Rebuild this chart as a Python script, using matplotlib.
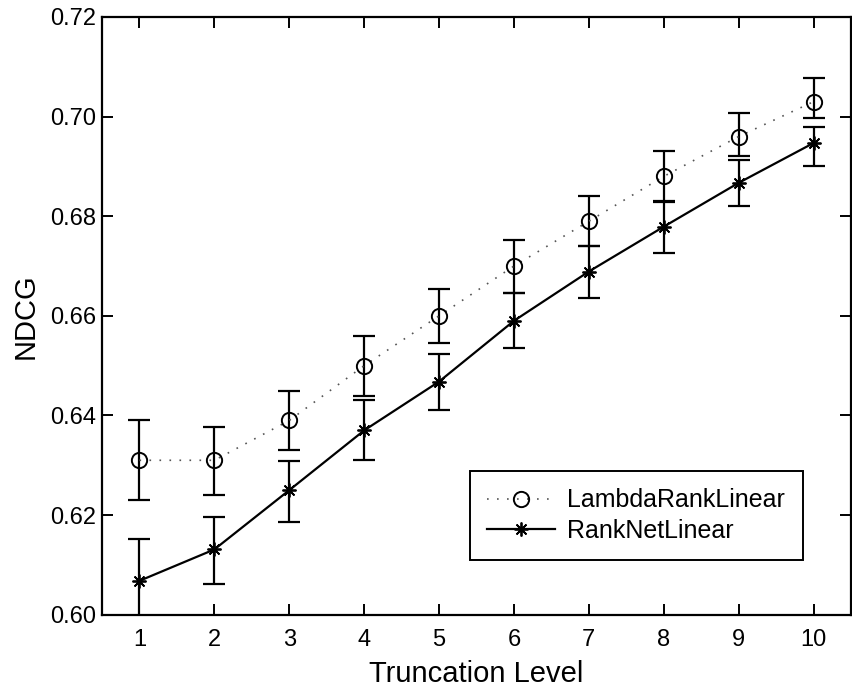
import matplotlib
matplotlib.use("Agg")
import matplotlib.pyplot as plt

# truncation levels
levels = [1, 2, 3, 4, 5, 6, 7, 8, 9, 10]

# LambdaRankLinear: mean and error bar ends
lambda_mean = [0.631, 0.631, 0.639, 0.650, 0.660, 0.670, 0.679, 0.688, 0.696, 0.703]
lambda_lo = [0.623, 0.624, 0.633, 0.644, 0.6545, 0.6645, 0.674, 0.683, 0.692, 0.6997]
lambda_hi = [0.639, 0.6377, 0.645, 0.656, 0.6653, 0.6752, 0.684, 0.693, 0.7007, 0.7077]

# RankNetLinear: mean and error bar ends
ranknet_mean = [0.6068, 0.6131, 0.625, 0.637, 0.6468, 0.659, 0.6689, 0.6779, 0.6867, 0.6947]
ranknet_lo = [0.598, 0.6062, 0.6187, 0.631, 0.6411, 0.6535, 0.6635, 0.6727, 0.682, 0.690]
ranknet_hi = [0.6151, 0.6197, 0.6309, 0.6432, 0.6523, 0.6646, 0.674, 0.6829, 0.6912, 0.698]

yticks = [0.60, 0.62, 0.64, 0.66, 0.68, 0.70, 0.72]

plt.rcParams['font.family'] = ['Liberation Sans', 'DejaVu Sans']

fig = plt.figure(figsize=(8.53, 6.88), dpi=100)
ax = fig.add_axes([102 / 853, 73.3 / 688, 749 / 853, 597.7 / 688])

def bounds(mean, lo, hi):
    return [[m - l for m, l in zip(mean, lo)], [h - m for m, h in zip(mean, hi)]]

# error bars (no markers, no connecting line)
ax.errorbar(levels, lambda_mean, yerr=bounds(lambda_mean, lambda_lo, lambda_hi),
            fmt='none', ecolor='black', elinewidth=1.6, capsize=8, capthick=1.6)
ax.errorbar(levels, ranknet_mean, yerr=bounds(ranknet_mean, ranknet_lo, ranknet_hi),
            fmt='none', ecolor='black', elinewidth=1.6, capsize=8, capthick=1.6)

# lines with markers
ax.plot(levels, lambda_mean, linestyle=(0, (1, 5)), color='#555555', linewidth=1.2,
        marker='o', markersize=11, markerfacecolor='none', markeredgecolor='black',
        markeredgewidth=1.4, label='LambdaRankLinear')
ax.plot(levels, ranknet_mean, linestyle='-', color='black', linewidth=1.6,
        marker=(8, 2, 0), markersize=10, markeredgecolor='black',
        markeredgewidth=1.3, label='RankNetLinear')

ax.set_xlim(0.5, 10.5)
ax.set_ylim(0.60, 0.72)
ax.set_xticks(levels)
ax.set_yticks(yticks)
ax.set_yticklabels(['%.2f' % v for v in yticks])
ax.tick_params(direction='in', length=8, width=1.4, top=True, right=True,
               labelsize=17)
ax.tick_params(axis='x', pad=10)
ax.tick_params(axis='y', pad=4)
for s in ax.spines.values():
    s.set_linewidth(1.6)

ax.set_xlabel('Truncation Level', fontsize=21, labelpad=7)
ax.set_ylabel('NDCG', fontsize=21, labelpad=8)

leg = ax.legend(loc='lower left', bbox_to_anchor=(0.491, 0.0915), borderaxespad=0,
                fontsize=18, fancybox=False, edgecolor='black', framealpha=1,
                handlelength=2.7, handletextpad=0.5, borderpad=0.7,
                labelspacing=0.25)
leg.get_frame().set_linewidth(1.4)

fig.savefig('out.png', dpi=100)
